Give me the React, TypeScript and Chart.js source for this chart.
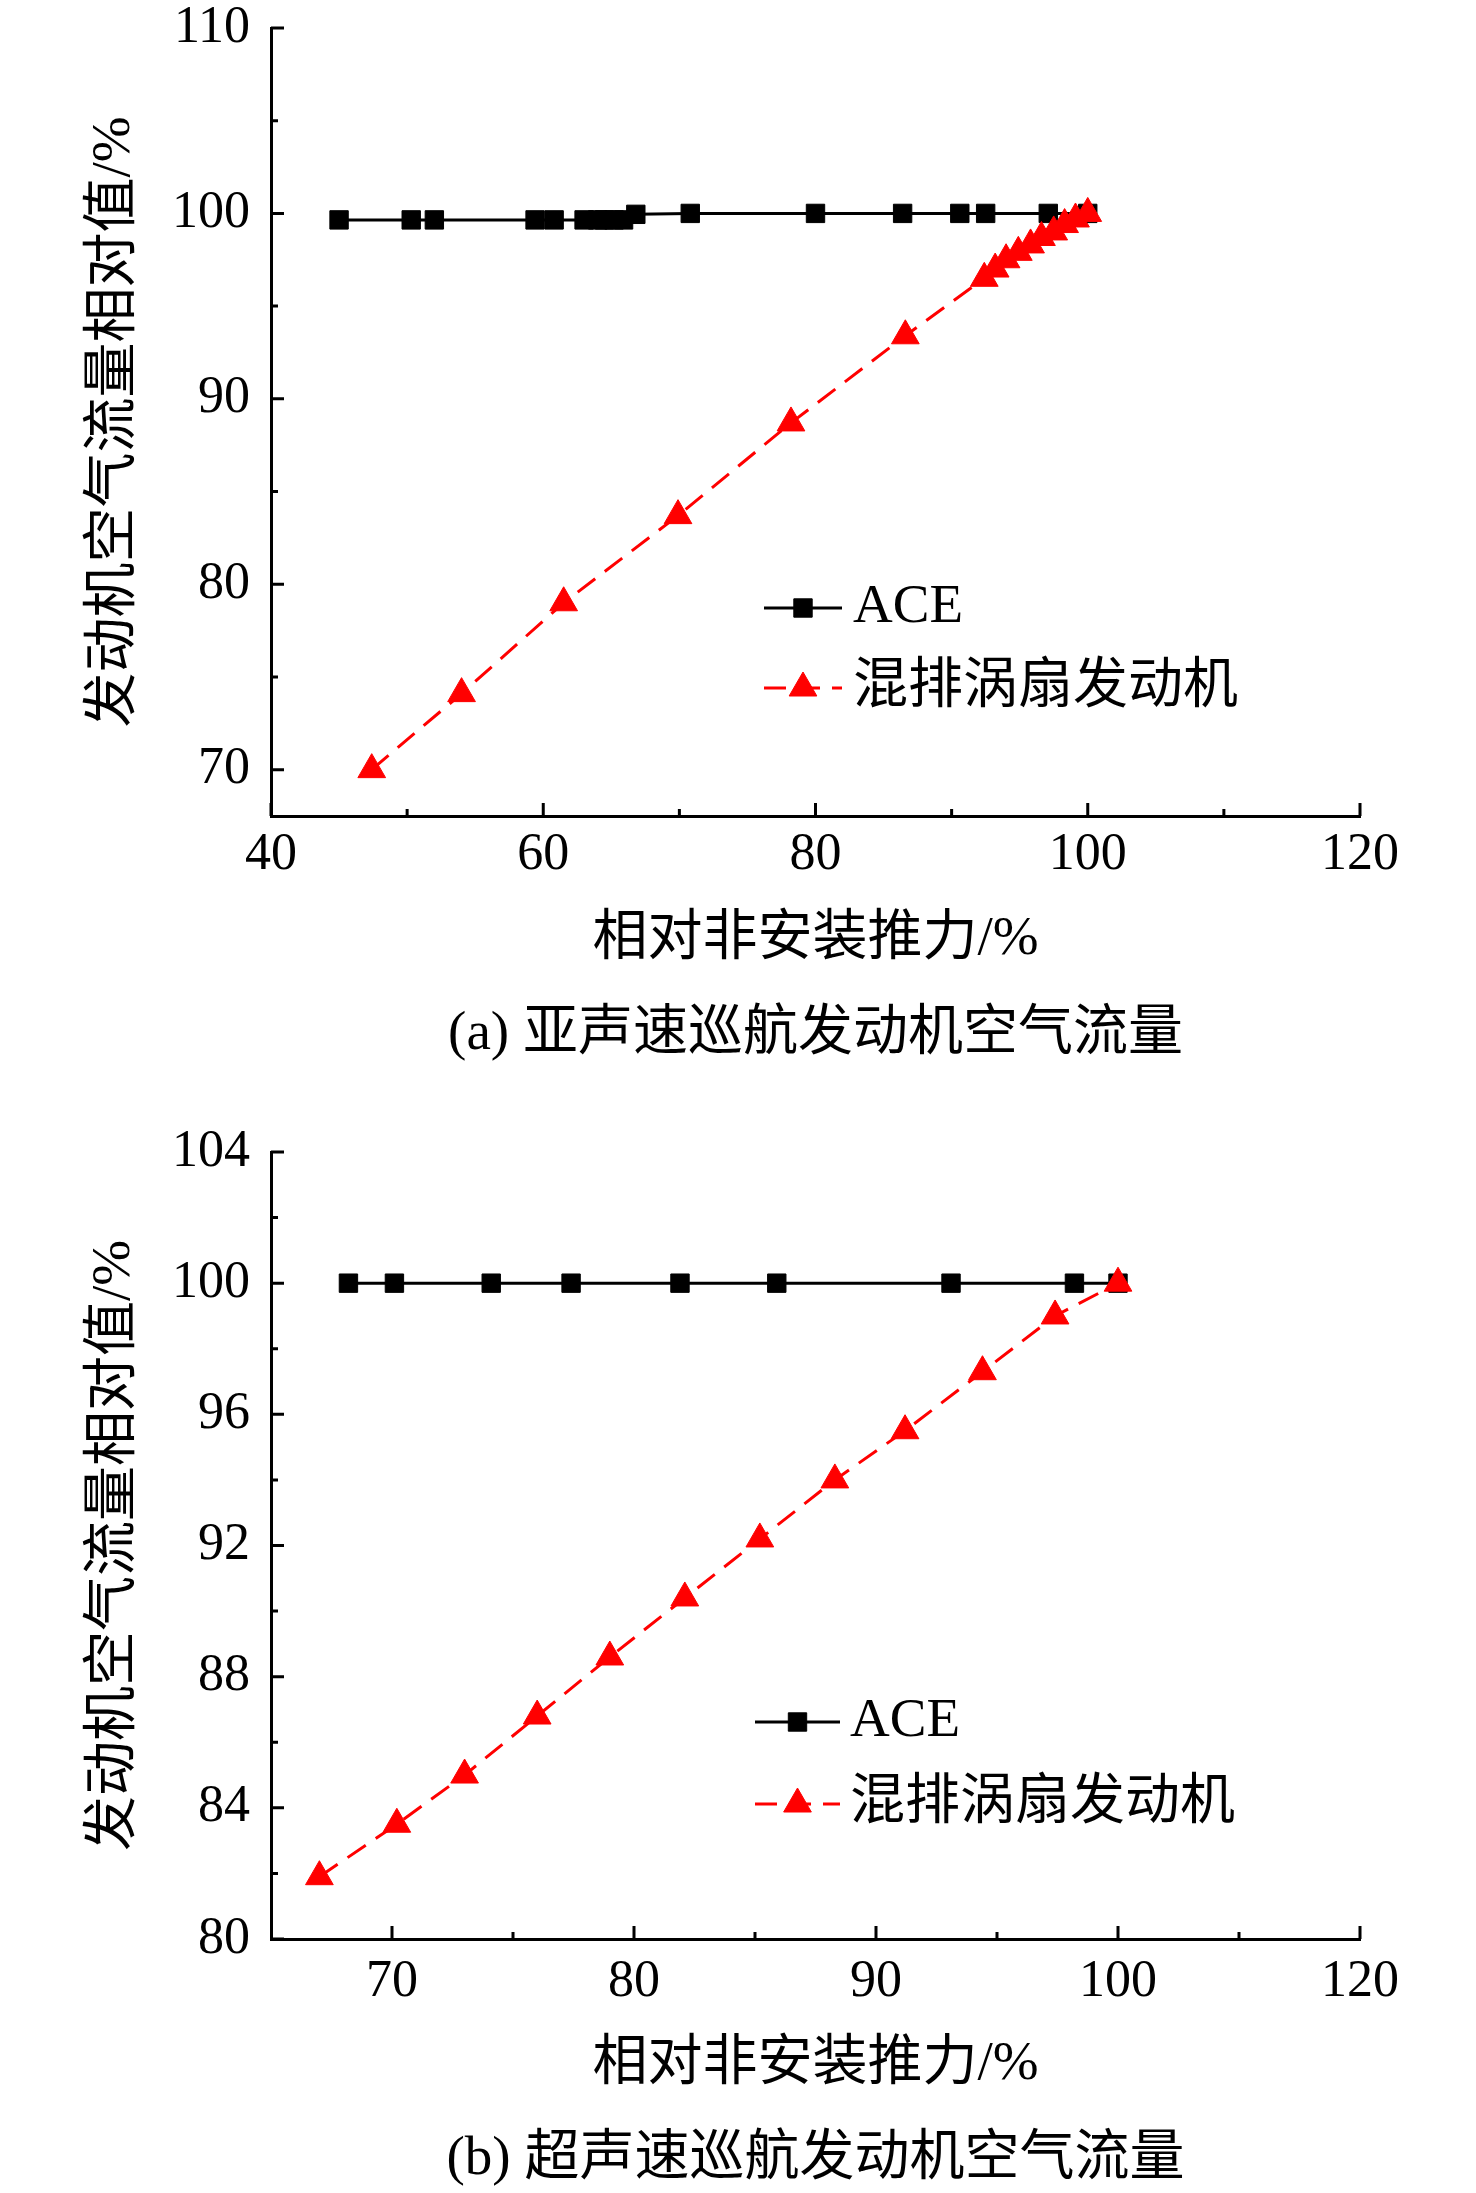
import React, { useEffect, useRef } from "react";
import { Chart, registerables } from "chart.js";
import { drawPoint } from "chart.js/helpers";

Chart.register(...registerables);

const LABEL_ACE = "ACE";
const LABEL_MIX = "混排涡扇发动机";
const X_TITLE = "相对非安装推力/%";
const Y_TITLE = "发动机空气流量相对值/%";

// (a) subsonic cruise
const aceThrustA = [45.0, 50.3, 52.0, 59.4, 60.8, 63.0, 64.0, 64.5, 65.2, 65.9, 66.8, 70.8, 80.0, 86.4, 90.6, 92.5, 97.1, 100.0];
const aceFlowA = [99.65, 99.65, 99.65, 99.65, 99.65, 99.65, 99.65, 99.65, 99.65, 99.65, 99.95, 100, 100, 100, 100, 100, 100, 100];
const mixThrustA = [47.4, 54.0, 61.5, 69.9, 78.2, 86.6, 92.4, 93.2, 94.0, 94.9, 95.8, 96.6, 97.5, 98.3, 99.1, 100.0];
const mixFlowA = [70.0, 74.1, 79.0, 83.7, 88.7, 93.4, 96.5, 97.0, 97.5, 97.9, 98.3, 98.7, 99.0, 99.4, 99.7, 100.0];
const xTicksA = [40, 60, 80, 100, 120];
const xTickLabelsA = ["40", "60", "80", "100", "120"];
const xMinorA = [50, 70, 90, 110];
const yTicksA = [70, 80, 90, 100, 110];
const yMinorA = [75, 85, 95, 105];

// (b) supersonic cruise
const aceThrustB = [68.2, 70.1, 74.1, 77.4, 81.9, 85.9, 93.1, 98.2, 100.0];
const aceFlowB = [100, 100, 100, 100, 100, 100, 100, 100, 100];
const mixThrustB = [67.0, 70.2, 73.0, 76.0, 79.0, 82.1, 85.2, 88.3, 91.2, 94.4, 97.4, 100.0];
const mixFlowB = [81.9, 83.5, 85.0, 86.8, 88.6, 90.4, 92.2, 94.0, 95.5, 97.3, 99.0, 100.0];
const xTicksB = [70, 80, 90, 100, 110];
const xTickLabelsB = ["70", "80", "90", "100", "120"];
const xMinorB = [75, 85, 95, 105];
const yTicksB = [80, 84, 88, 92, 96, 100, 104];
const yMinorB = [82, 86, 90, 94, 98, 102];

const NUM_FONT = "'Liberation Serif', 'Times New Roman', serif";
const TEXT_FONT = "'Liberation Serif', 'Noto Sans CJK SC', serif";

const innerTicks = {
  id: "innerTicks",
  afterDatasetsDraw(chart: any, _args: any, opts: any) {
    const { ctx, chartArea, scales } = chart;
    const { left, bottom } = chartArea;
    ctx.save();
    ctx.strokeStyle = "#000";
    ctx.lineWidth = 3;
    ctx.beginPath();
    const xTick = (v: number, len: number) => {
      const px = scales.x.getPixelForValue(v);
      ctx.moveTo(px, bottom);
      ctx.lineTo(px, bottom - len);
    };
    const yTick = (v: number, len: number) => {
      const py = scales.y.getPixelForValue(v);
      ctx.moveTo(left, py);
      ctx.lineTo(left + len, py);
    };
    opts.xMajor.forEach((v: number) => xTick(v, 13));
    opts.xMinor.forEach((v: number) => xTick(v, 7));
    opts.yMajor.forEach((v: number) => yTick(v, 13));
    opts.yMinor.forEach((v: number) => yTick(v, 7));
    ctx.stroke();
    ctx.restore();
  },
};

const lineLegend = {
  id: "lineLegend",
  afterDraw(chart: any, _args: any, opts: any) {
    const { ctx } = chart;
    ctx.save();
    chart.data.datasets.forEach((ds: any, i: number) => {
      const y = opts.y + i * opts.gap;
      ctx.strokeStyle = ds.borderColor;
      ctx.lineWidth = ds.borderWidth;
      ctx.setLineDash(ds.borderDash || []);
      ctx.beginPath();
      ctx.moveTo(opts.x, y);
      ctx.lineTo(opts.x + opts.lineLen, y);
      ctx.stroke();
      ctx.setLineDash([]);
      ctx.fillStyle = ds.pointBackgroundColor;
      ctx.strokeStyle = ds.pointBorderColor;
      ctx.lineWidth = 1;
      drawPoint(ctx, { pointStyle: ds.pointStyle, radius: ds.pointRadius, rotation: 0, borderWidth: 1 }, opts.x + opts.lineLen / 2, y);
      ctx.fillStyle = "#000";
      ctx.font = `55px ${TEXT_FONT}`;
      ctx.textBaseline = "middle";
      ctx.textAlign = "left";
      ctx.fillText(ds.label, opts.textX, y);
    });
    ctx.restore();
  },
};

interface PanelProps {
  top: number;
  height: number;
  caption: string;
  aceX: number[];
  aceY: number[];
  mixX: number[];
  mixY: number[];
  xRange: [number, number];
  yRange: [number, number];
  xTicks: number[];
  xTickLabels: string[];
  xMinor: number[];
  yTicks: number[];
  yMinor: number[];
  padTop: number;
  xTickPad: number;
  xTitlePad: number;
  capPad: [number, number];
  legend: { x: number; y: number; gap: number; lineLen: number; textX: number };
}

const Panel: React.FC<PanelProps> = (p) => {
  const canvasRef = useRef<HTMLCanvasElement | null>(null);

  useEffect(() => {
    if (!canvasRef.current) return;
    const chart = new Chart(canvasRef.current, {
      type: "line",
      data: {
        datasets: [
          {
            label: LABEL_ACE,
            data: p.aceX.map((x, i) => ({ x, y: p.aceY[i] })),
            borderColor: "#000",
            borderWidth: 3,
            pointStyle: "rect",
            pointRadius: 13,
            pointBackgroundColor: "#000",
            pointBorderColor: "#000",
            pointBorderWidth: 1,
            order: 1,
          },
          {
            label: LABEL_MIX,
            data: p.mixX.map((x, i) => ({ x, y: p.mixY[i] })),
            borderColor: "#ff0000",
            borderWidth: 3,
            borderDash: [22, 12],
            pointStyle: "triangle",
            pointRadius: 16,
            pointBackgroundColor: "#ff0000",
            pointBorderColor: "#ff0000",
            pointBorderWidth: 1,
            order: 0,
          },
        ],
      },
      options: {
        responsive: false,
        animation: false,
        layout: { padding: { top: p.padTop, right: 116, left: 0, bottom: 0 } },
        scales: {
          x: {
            type: "linear",
            min: p.xRange[0],
            max: p.xRange[1],
            grid: { display: false, drawTicks: false },
            border: { display: true, color: "#000", width: 3 },
            afterBuildTicks: (s: any) => {
              s.ticks = p.xTicks.map((v) => ({ value: v }));
            },
            afterFit: (s: any) => {
              s.height = 180;
            },
            ticks: {
              autoSkip: false,
              maxRotation: 0,
              padding: p.xTickPad,
              color: "#000",
              font: { family: NUM_FONT, size: 52, lineHeight: 1 },
              callback: (v: any) => {
                const i = p.xTicks.indexOf(Number(v));
                return i >= 0 ? p.xTickLabels[i] : "";
              },
            },
            title: {
              display: true,
              text: X_TITLE,
              color: "#000",
              font: { family: TEXT_FONT, size: 55, lineHeight: 1.2 },
              padding: { top: 0, bottom: p.xTitlePad },
            },
          },
          y: {
            type: "linear",
            min: p.yRange[0],
            max: p.yRange[1],
            grid: { display: false, drawTicks: true, tickLength: 21 },
            border: { display: true, color: "#000", width: 3 },
            afterBuildTicks: (s: any) => {
              s.ticks = p.yTicks.map((v) => ({ value: v }));
            },
            afterFit: (s: any) => {
              s.width = 271;
            },
            ticks: {
              autoSkip: false,
              padding: 0,
              color: "#000",
              font: { family: NUM_FONT, size: 52, lineHeight: 1 },
            },
            title: {
              display: true,
              text: Y_TITLE,
              color: "#000",
              font: { family: TEXT_FONT, size: 55, lineHeight: 1.2 },
              padding: { top: 82, bottom: 0 },
            },
          },
        },
        plugins: {
          legend: { display: false },
          tooltip: { enabled: false },
          title: {
            display: true,
            position: "bottom",
            fullSize: false,
            text: p.caption,
            color: "#000",
            font: { family: TEXT_FONT, size: 55, weight: "normal", lineHeight: 1.2 },
            padding: { top: p.capPad[0], bottom: p.capPad[1] },
          },
          innerTicks: { xMajor: p.xTicks, xMinor: p.xMinor, yMajor: p.yTicks, yMinor: p.yMinor },
          lineLegend: p.legend,
        } as any,
      },
      plugins: [innerTicks, lineLegend],
    });
    return () => {
      chart.destroy();
    };
  }, []);

  return (
    <canvas
      ref={canvasRef}
      width={1476}
      height={p.height}
      style={{ position: "absolute", left: 0, top: p.top, width: 1476, height: p.height, display: "block" }}
    />
  );
};

export default function App() {
  return (
    <div style={{ position: "absolute", left: 0, top: 0, width: 1476, height: 2193, background: "#fff", overflow: "hidden" }}>
      <Panel
        top={0}
        height={1096}
        caption="(a) 亚声速巡航发动机空气流量"
        aceX={aceThrustA}
        aceY={aceFlowA}
        mixX={mixThrustA}
        mixY={mixFlowA}
        xRange={[40, 120]}
        yRange={[67.5, 110]}
        xTicks={xTicksA}
        xTickLabels={xTickLabelsA}
        xMinor={xMinorA}
        yTicks={yTicksA}
        yMinor={yMinorA}
        padTop={28}
        xTickPad={13}
        xTitlePad={23}
        capPad={[6, 28]}
        legend={{ x: 764, y: 608, gap: 80, lineLen: 78, textX: 853 }}
      />
      <Panel
        top={1096}
        height={1097}
        caption="(b) 超声速巡航发动机空气流量"
        aceX={aceThrustB}
        aceY={aceFlowB}
        mixX={mixThrustB}
        mixY={mixFlowB}
        xRange={[65, 110]}
        yRange={[80, 104]}
        xTicks={xTicksB}
        xTickLabels={xTickLabelsB}
        xMinor={xMinorB}
        yTicks={yTicksB}
        yMinor={yMinorB}
        padTop={56}
        xTickPad={17}
        xTitlePad={21}
        capPad={[8, 0]}
        legend={{ x: 755, y: 626, gap: 82, lineLen: 85, textX: 850 }}
      />
    </div>
  );
}
